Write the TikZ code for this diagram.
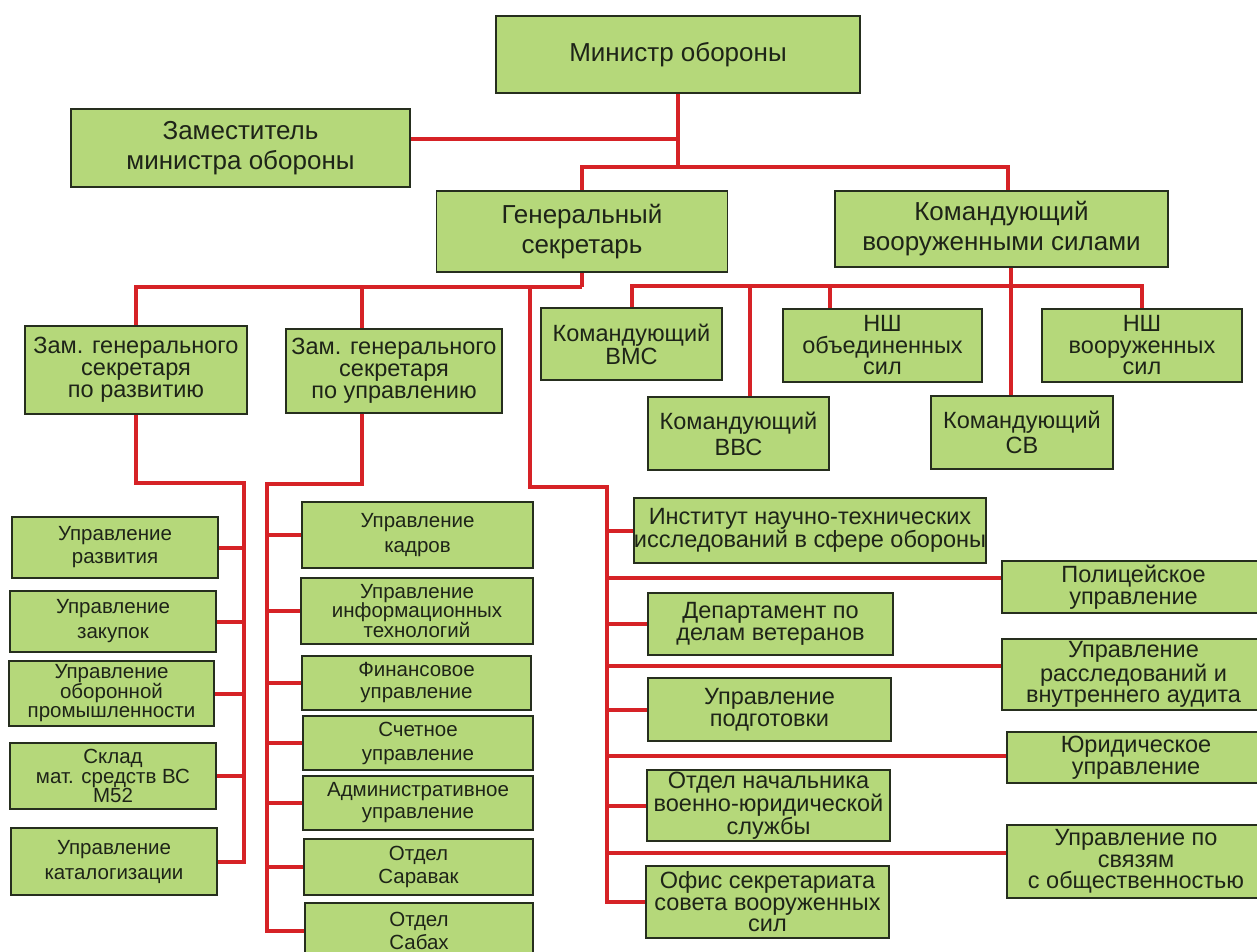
\documentclass[tikz,border=0pt]{standalone}
\usepackage{fontspec}
\setmainfont{Liberation Sans}
\usetikzlibrary{backgrounds}
\definecolor{boxfill}{RGB}{181,216,122}
\definecolor{boxedge}{RGB}{38,46,30}
\definecolor{linkred}{RGB}{214,34,38}
\definecolor{inkdark}{RGB}{30,36,24}
\tikzset{
  box/.style={draw=boxedge, fill=boxfill, line width=1.8pt, inner sep=0pt,
    align=center, text=inkdark},
  wh/.style 2 args={minimum width=#1pt, minimum height=#2pt},
  headbox/.style={box, font=\fontsize{26}{30}\selectfont},
  unitbox/.style={box, font=\fontsize{23.5}{#1}\selectfont},
  unitbox/.default=23,
  deptbox/.style={box, font=\fontsize{20.5}{#1}\selectfont},
  deptbox/.default=23,
  link/.style={draw=linkred, line width=4pt},
}
\begin{document}
\begin{tikzpicture}[x=1pt,y=-1pt]
  \useasboundingbox (0,0) rectangle (1257,951);
  % top level
  \node[headbox, wh={364}{77}] (min) at (678,54.5) {Министр обороны};
  \node[headbox, wh={339}{78}] (dep) at (240.5,148) {Заместитель\\министра обороны};
  \node[headbox, wh={291}{81}] (gensec) at (582,231.5) {Генеральный\\секретарь};
  \node[headbox, wh={333}{76}] (cmdaf) at (1001.5,229) {Командующий\\вооруженными силами};
  % deputies of the secretary
  \node[unitbox=22, wh={222}{88}] (zamdev) at (136,370) {Зам. генерального\\секретаря\\по развитию};
  \node[unitbox=22, wh={216}{84}] (zammgmt) at (394,371) {Зам. генерального\\секретаря\\по управлению};
  % commands
  \node[unitbox=23, wh={181}{72}] (navy) at (631.5,344) {Командующий\\ВМС};
  \node[unitbox=21.5, wh={199}{73}] (jointcs) at (882.5,345.5) {НШ\\объединенных\\сил};
  \node[unitbox=21.5, wh={200}{73}] (afcs) at (1142,345.5) {НШ\\вооруженных\\сил};
  \node[unitbox=26, wh={181}{73}] (airf) at (738.5,433.5) {Командующий\\ВВС};
  \node[unitbox=25, wh={182}{73}] (army) at (1022,432.5) {Командующий\\СВ};
  % left column
  \node[deptbox=23, wh={206}{61}] (devdir) at (115,547.5) {Управление\\развития};
  \node[deptbox=25, wh={206}{61}] (procure) at (113,621.5) {Управление\\закупок};
  \node[deptbox=19.5, wh={205}{65}] (defind) at (111.5,693.5) {Управление\\оборонной\\промышленности};
  \node[deptbox=19.5, wh={206}{66}] (depot) at (113,776) {Склад\\мат. средств ВС\\М52};
  \node[deptbox=25, wh={206}{67}] (catalog) at (114,861.5) {Управление\\каталогизации};
  % middle column
  \node[deptbox=25, wh={231}{66}] (hr) at (417.5,535) {Управление\\кадров};
  \node[deptbox=19.5, wh={232}{66}] (infotech) at (417,611) {Управление\\информационных\\технологий};
  \node[deptbox=22, wh={229}{54}] (fin) at (416.5,683) {Финансовое\\управление};
  \node[deptbox=24, wh={230}{54}] (acc) at (418,743) {Счетное\\управление};
  \node[deptbox=22, wh={230}{54}] (adm) at (418,803) {Административное\\управление};
  \node[deptbox=23, wh={229}{56}] (sarawak) at (418.5,867) {Отдел\\Саравак};
  \node[deptbox=23, wh={228}{55}] (sabah) at (419,930.5) {Отдел\\Сабах};
  % secretary's own offices
  \node[unitbox=23, wh={326}{65}] (inst) at (810,530.5) {Институт научно-технических\\исследований в сфере обороны};
  \node[unitbox=22, wh={245}{62}] (vet) at (770.5,624) {Департамент по\\делам ветеранов};
  \node[unitbox=21.5, wh={243}{63}] (train) at (769.5,709.5) {Управление\\подготовки};
  \node[unitbox=21.5, wh={243}{71}] (legaloff) at (768.5,805.5) {Отдел начальника\\военно-юридической\\службы};
  \node[unitbox=21.5, wh={243}{72}] (secr) at (767.5,902) {Офис секретариата\\совета вооруженных\\сил};
  \node[unitbox=21.5, wh={263}{52}] (police) at (1133.5,587) {Полицейское\\управление};
  \node[unitbox=21.5, wh={263}{71}] (audit) at (1133.5,674.5) {Управление\\расследований и\\внутреннего аудита};
  \node[unitbox=21.5, wh={258}{51}] (law) at (1136,757.5) {Юридическое\\управление};
  \node[unitbox=21.5, wh={258}{73}] (pr) at (1136,861.5) {Управление по\\связям\\с общественностью};
  % junctions
  \coordinate (mj) at (678,167);
  \coordinate (gsj) at (582,287);
  \coordinate (afj) at (1011,286);
  \coordinate (gsr) at (530,487);
  \coordinate (gsp) at (607,487);
  \coordinate (devsp) at (244,483);
  \coordinate (mgsp) at (267,484);
  \begin{scope}[on background layer]
    \fill[white] (0,0) rectangle (1257,951);
    \draw[link] (min.south) -- (mj);
    \draw[link] ([yshift=9pt]dep.east) -| (mj);
    \draw[link] (gensec.north) |- (mj) -| ([xshift=6.5pt]cmdaf.north);
    % general secretary
    \draw[link] (gensec.south) -- (gsj);
    \draw[link] (zamdev.north) |- (gsj);
    \draw[link] ([xshift=-32pt]zammgmt.north) |- (gsj);
    \draw[link] (gsj -| gsr) -- (gsr) -- (gsp) -- (gsp |- secr.west) -- (secr.west);
    \foreach \n in {inst,vet,train,legaloff}
      \draw[link] (\n.west) -| (gsp);
    \foreach \n/\s in {police/9,audit/8.5,law/1.5,pr/8.5}
      \draw[link] ([yshift=\s pt]\n.west) -| (gsp);
    % armed forces
    \draw[link] ([xshift=9.5pt]cmdaf.south) -- ([xshift=-11pt]army.north);
    \draw[link] (navy.north) |- (afj) -| (afcs.north);
    \draw[link] ([xshift=-52.5pt]jointcs.north) |- (afj);
    \draw[link] ([xshift=11.5pt]airf.north) |- (afj);
    % development
    \draw[link] (zamdev.south) |- (devsp) -- (devsp |- catalog.east) -- (catalog.east);
    \foreach \n in {devdir,procure,defind,depot}
      \draw[link] (\n.east) -| (devsp);
    % management
    \draw[link] ([xshift=-32pt]zammgmt.south) |- (mgsp) -- (mgsp |- sabah.west) -- (sabah.west);
    \foreach \n in {hr,infotech,fin,acc,adm,sarawak}
      \draw[link] (\n.west) -| (mgsp);
  \end{scope}
\end{tikzpicture}
\end{document}
